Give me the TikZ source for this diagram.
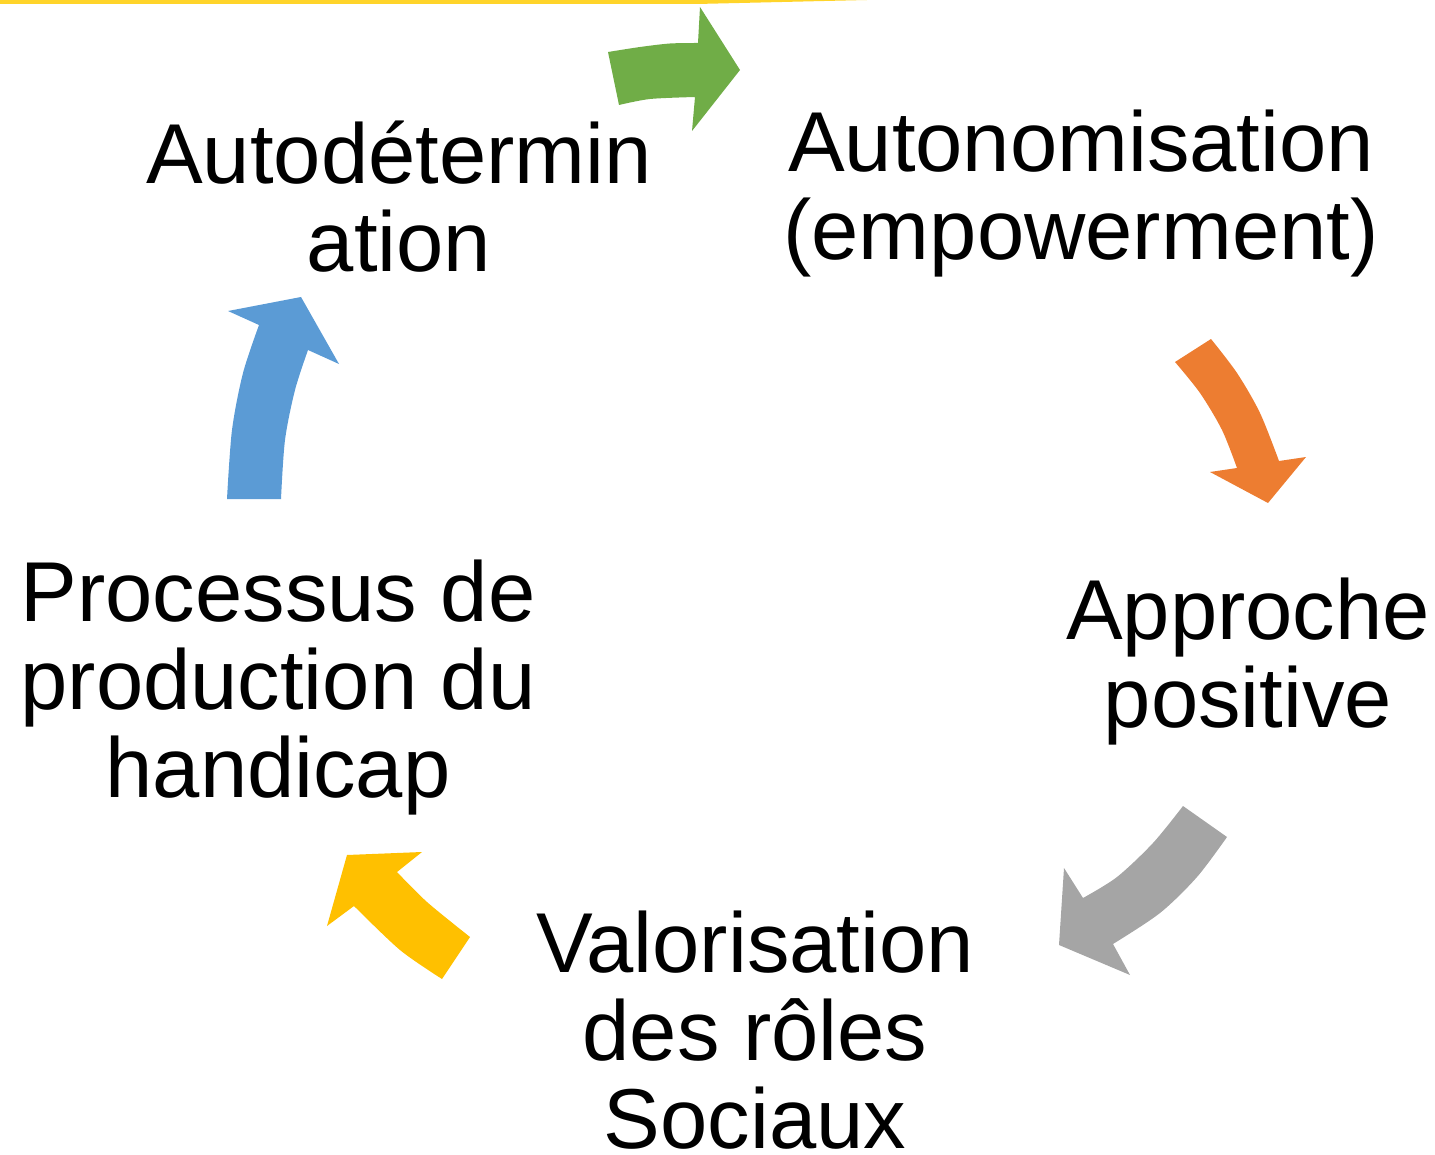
\documentclass[tikz,border=0pt]{standalone}
\usepackage{fontspec}
\setmainfont{Liberation Sans}
\definecolor{cgreen}{HTML}{70AD47}
\definecolor{corange}{HTML}{ED7D31}
\definecolor{cgray}{HTML}{A5A5A5}
\definecolor{cyellow}{HTML}{FFC000}
\definecolor{cblue}{HTML}{5B9BD5}
\definecolor{cline}{HTML}{FFD42A}
\begin{document}
\begin{tikzpicture}[x=0.5pt,y=-0.5pt,
  lbl/.style={align=center,anchor=base,inner sep=0pt,
    font=\fontsize{42.5pt}{44pt}\selectfont}]
\useasboundingbox (0,0) rectangle (1435,1155);
% top line
\fill[cline] (0,0) -- (697,0) -- (867,0) -- (697,4) -- (0,4) -- cycle;
% labels (anchor = baseline of last line)
\node[lbl] (autodet) at (399,272) {Autodétermin\\ation};
\node[lbl] (autonom) at (1081,260) {Autonomisation\\(empowerment)};
\node[lbl] (approche) at (1248,727) {Approche\\positive};
\node[lbl] (valor) at (755,1148) {Valorisation\\des rôles\\Sociaux};
\node[lbl] (process) at (278,797) {Processus de\\production du\\handicap};
% green arrow
\fill[cgreen] (608,52) -- plot[smooth] coordinates {(608,52) (640,47) (670,43.5) (698,43)}
  -- (700,7) -- (740,70) -- (692,131)
  -- plot[smooth] coordinates {(695,97) (650,99) (619,105)} -- cycle;
% orange arrow
\fill[corange] (1175,362)
  -- plot[smooth] coordinates {(1211,339) (1237,373) (1260,413) (1279,461)}
  -- (1306,457) -- (1268,503) -- (1210,472)
  -- plot[smooth] coordinates {(1237,468) (1222,430) (1200,393) (1175,362)} -- cycle;
% gray arrow
\fill[cgray] (1183,806)
  -- plot[smooth] coordinates {(1227,837) (1197,877) (1160,913) (1113,944)}
  -- (1130,975) -- (1059,945) -- (1064,868)
  -- plot[smooth] coordinates {(1083,898) (1117,877) (1153,843) (1183,806)} -- cycle;
% yellow arrow
\fill[cyellow] (347,855) -- (422,852)
  -- plot[smooth] coordinates {(397,872) (427,902) (470,937)}
  -- plot[smooth] coordinates {(442,979) (400,950) (354,906)}
  -- (327,926) -- cycle;
% blue arrow
\fill[cblue] (227,499)
  -- plot[smooth] coordinates {(281,499) (285,440) (295,390) (308,350)}
  -- (339,364) -- (301,297) -- (228,311)
  -- plot[smooth] coordinates {(259,325) (243,373) (232,430) (227,499)} -- cycle;
\end{tikzpicture}
\end{document}
